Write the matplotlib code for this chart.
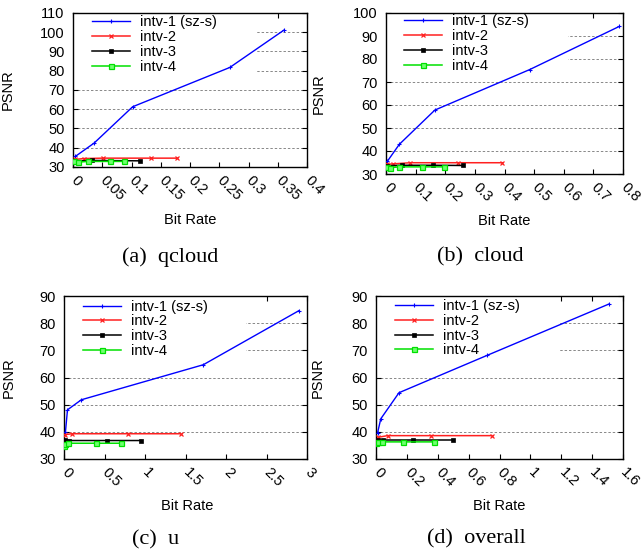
import matplotlib
matplotlib.use('Agg')
import matplotlib.pyplot as plt
from matplotlib.patches import Rectangle

plt.rcParams['font.family'] = ['Liberation Sans', 'DejaVu Sans']

# (a) qcloud
qc_x1 = [0.004, 0.036, 0.102, 0.268, 0.361]
qc_y1 = [35.5, 42.4, 61.3, 81.7, 101.2]
qc_x2 = [0.003, 0.019, 0.051, 0.133, 0.178]
qc_y2 = [33.9, 34.4, 34.6, 34.6, 34.6]
qc_x3 = [0.001, 0.033, 0.115]
qc_y3 = [33.1, 33.4, 33.2]
qc_x4 = [0.001, 0.008, 0.025, 0.064, 0.088]
qc_y4 = [32.9, 32.5, 32.9, 32.9, 32.9]

# (b) cloud
cl_x1 = [0.005, 0.045, 0.165, 0.485, 0.788]
cl_y1 = [35.6, 42.9, 57.8, 75.4, 94.2]
cl_x2 = [0.002, 0.024, 0.082, 0.243, 0.393]
cl_y2 = [34.2, 34.4, 34.9, 34.9, 34.9]
cl_x3 = [0.002, 0.054, 0.159, 0.261]
cl_y3 = [33.6, 33.8, 33.8, 33.7]
cl_x4 = [0.005, 0.012, 0.043, 0.12, 0.195]
cl_y4 = [33.0, 32.7, 33.1, 33.1, 33.1]

# (c) u
u_x1 = [0.018, 0.043, 0.214, 1.72, 2.9]
u_y1 = [40.0, 48.1, 51.8, 64.7, 84.6]
u_x2 = [0.018, 0.10, 0.79, 1.44]
u_y2 = [39.0, 39.3, 39.3, 39.3]
u_x3 = [0.018, 0.063, 0.53, 0.95]
u_y3 = [37.0, 36.8, 36.8, 36.8]
u_x4 = [0.0, 0.015, 0.045, 0.39, 0.70]
u_y4 = [34.9, 35.5, 35.8, 35.8, 35.8]

# (d) overall
ov_x1 = [0.01, 0.031, 0.149, 0.722, 1.507]
ov_y1 = [39.6, 44.8, 54.4, 68.2, 87.0]
ov_x2 = [0.014, 0.075, 0.358, 0.75]
ov_y2 = [38.0, 38.6, 38.6, 38.6]
ov_x3 = [0.01, 0.047, 0.239, 0.498]
ov_y3 = [37.0, 37.0, 37.0, 37.0]
ov_x4 = [0.0, 0.012, 0.042, 0.178, 0.374]
ov_y4 = [35.9, 36.2, 36.3, 36.3, 36.3]

labels = ['intv-1 (sz-s)', 'intv-2', 'intv-3', 'intv-4']

panels = [
    dict(data=[(qc_x1, qc_y1), (qc_x2, qc_y2), (qc_x3, qc_y3), (qc_x4, qc_y4)],
         rect=[73, 13, 307, 167], xmax=0.4, xstep=0.05, ymax=110,
         hide=(0.78, 75), leg=(0.08, 0.984), ylab=-0.248, xlab=(0.5, -0.344),
         cap='(a)  qcloud', cap_xy=(170, 257)),
    dict(data=[(cl_x1, cl_y1), (cl_x2, cl_y2), (cl_x3, cl_y3), (cl_x4, cl_y4)],
         rect=[386, 13, 623, 174], xmax=0.8, xstep=0.1, ymax=100,
         hide=(0.767, 75), leg=(0.077, 0.991), ylab=-0.253, xlab=(0.498, -0.292),
         cap='(b)  cloud', cap_xy=(480, 257)),
    dict(data=[(u_x1, u_y1), (u_x2, u_y2), (u_x3, u_y3), (u_x4, u_y4)],
         rect=[64, 296, 307, 459], xmax=3, xstep=0.5, ymax=90,
         hide=(0.75, 65), leg=(0.077, 0.977), ylab=-0.2, xlab=(0.506, -0.288),
         cap='(c)  u', cap_xy=(156, 540)),
    dict(data=[(ov_x1, ov_y1), (ov_x2, ov_y2), (ov_x3, ov_y3), (ov_x4, ov_y4)],
         rect=[376, 296, 623, 459], xmax=1.6, xstep=0.2, ymax=90,
         hide=(0.74, 65), leg=(0.077, 0.98), ylab=-0.206, xlab=(0.498, -0.288),
         cap='(d)  overall', cap_xy=(476, 539)),
]

styles = [
    dict(color='#0000ff', lw=1.0, marker='+', ms=3, mew=0.8),
    dict(color='#ff2020', lw=1.1, marker='x', ms=2.5, mew=0.9),
    dict(color='#000000', lw=1.1, marker='s', ms=2.6, mew=0.5),
    dict(color='#00e000', lw=1.1, marker='s', ms=3.6, mew=0.9, mfc='#70ff70'),
]

W, H = 642, 554
fig = plt.figure(figsize=(W / 100, H / 100), dpi=100)

for p in panels:
    l, t, r, b = p['rect']
    ax = fig.add_axes([l / W, (H - b) / H, (r - l) / W, (b - t) / H])
    for (x, y), st, lab in zip(p['data'], styles, labels):
        ax.plot(x, y, label=lab, zorder=3, **st)

    n = int(round(p['xmax'] / p['xstep']))
    xt = [round(i * p['xstep'], 3) for i in range(n + 1)]
    ax.set_xlim(0, p['xmax'])
    ax.set_ylim(30, p['ymax'])
    ax.set_xticks(xt)
    ax.set_xticklabels([f'{v:g}' for v in xt], rotation=-45, ha='left',
                       va='center', rotation_mode='anchor')
    ax.set_yticks(range(30, p['ymax'] + 1, 10))
    ax.tick_params(direction='in', length=3.5, width=0.8, top=True, right=True,
                   labelsize=10.5, pad=6)
    ax.tick_params(axis='x', pad=8)
    for s in ax.spines.values():
        s.set_linewidth(1.0)

    ax.set_axisbelow(True)
    ax.yaxis.grid(True, linestyle=(0, (2.5, 2)), color='#888888', lw=0.7)
    # white key box hiding the grid behind the legend
    ax.add_patch(Rectangle((0, p['hide'][1]), p['hide'][0], p['ymax'] - p['hide'][1],
                           transform=ax.get_yaxis_transform(), facecolor='white',
                           edgecolor='none', zorder=1))

    ax.legend(loc='upper left', bbox_to_anchor=p['leg'], frameon=False,
              fontsize=10.5, handlelength=2.6, handletextpad=0.7, numpoints=1,
              labelspacing=0.05, borderpad=0, borderaxespad=0)

    ax.set_ylabel('PSNR', fontsize=10.5)
    ax.yaxis.set_label_coords(p['ylab'], 0.5)
    ax.set_xlabel('Bit Rate', fontsize=10.5, va='center')
    ax.xaxis.set_label_coords(*p['xlab'])

    fig.text(p['cap_xy'][0] / W, 1 - p['cap_xy'][1] / H, p['cap'],
             ha='center', va='center', fontsize=16, family='Liberation Serif')

fig.savefig('out.png', dpi=100)
